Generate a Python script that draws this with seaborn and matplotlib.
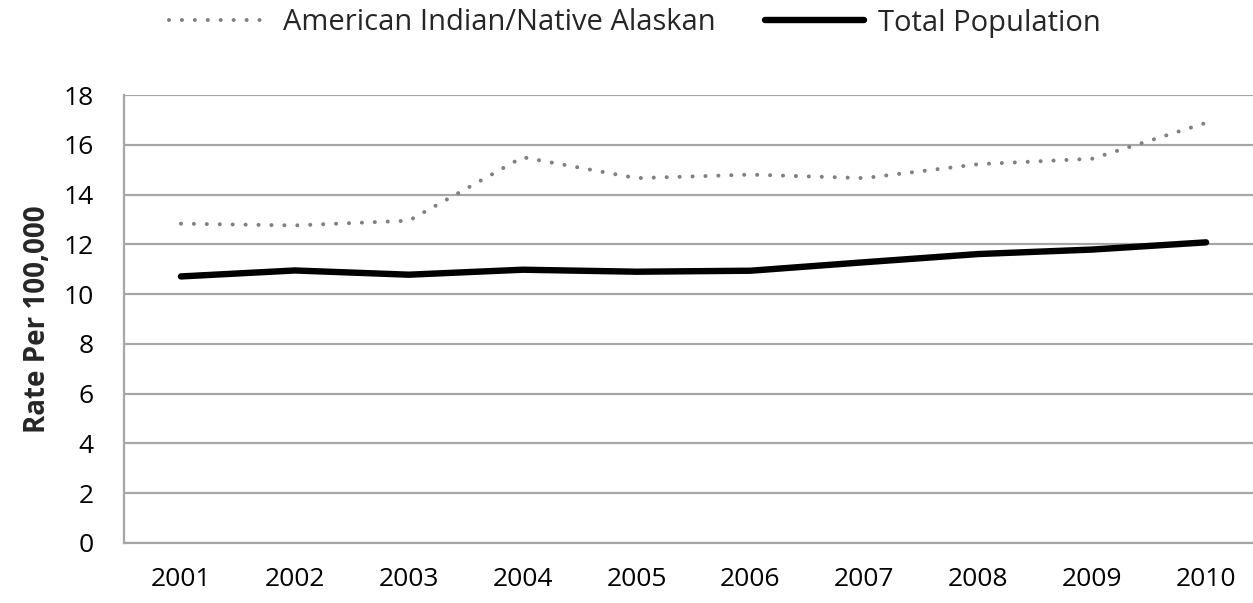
import matplotlib

matplotlib.use("Agg")
import matplotlib.pyplot as plt
import pandas as pd
import seaborn as sns

years = ["2001", "2002", "2003", "2004", "2005", "2006", "2007", "2008", "2009", "2010"]
aian_rate = [12.83, 12.76, 12.95, 15.5, 14.66, 14.8, 14.66, 15.22, 15.44, 16.88]
total_rate = [10.71, 10.95, 10.78, 10.98, 10.9, 10.94, 11.28, 11.61, 11.79, 12.08]
y_ticks = [0, 2, 4, 6, 8, 10, 12, 14, 16, 18]

sns.set_theme(style="white")
plt.rcParams["font.family"] = ["Open Sans", "DejaVu Sans"]

df = pd.DataFrame({"year": years, "aian": aian_rate, "total": total_rate})

fig = plt.figure(figsize=(12.53, 6.03), dpi=100)
ax = fig.add_axes([124 / 1253, 60 / 603, 1139 / 1253, 448 / 603])

sns.lineplot(
    data=df, x="year", y="aian", ax=ax, color="#808080", linewidth=2.9,
    linestyle=(0, (0.01, 3.2)), dash_capstyle="round",
    label="American Indian/Native Alaskan", sort=False,
)
sns.lineplot(
    data=df, x="year", y="total", ax=ax, color="black", linewidth=4.6,
    solid_capstyle="round", label="Total Population", sort=False,
)

ax.set_xlim(-0.5, 9.5)
ax.set_ylim(0, 18)
ax.set_yticks(y_ticks)
ax.yaxis.grid(True, color="#a6a6a6", linewidth=1.6)
ax.set_axisbelow(True)
for side in ["top", "right"]:
    ax.spines[side].set_visible(False)
for side in ["left", "bottom"]:
    ax.spines[side].set_color("#a6a6a6")
    ax.spines[side].set_linewidth(1.6)

ax.tick_params(axis="both", length=0, labelsize=19, colors="black")
ax.tick_params(axis="y", pad=22)
ax.tick_params(axis="x", pad=17)
ax.set_xlabel("")
ax.set_ylabel("Rate Per 100,000", fontsize=20, fontweight="bold", labelpad=8)

ax.legend(
    loc="center", bbox_to_anchor=(635 / 1253, 1 - 23 / 603),
    bbox_transform=fig.transFigure, ncol=2, frameon=False, fontsize=21,
    handlelength=3.4, handletextpad=0.5, columnspacing=1.7,
)

fig.savefig("out.png", dpi=100)
